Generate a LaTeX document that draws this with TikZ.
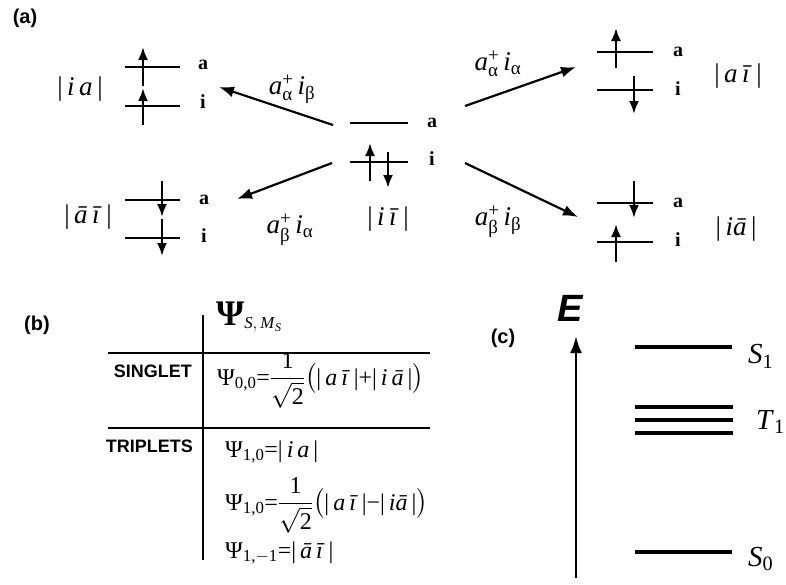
\documentclass[tikz,border=0pt]{standalone}
\usepackage{fontspec}
\usepackage{amsmath}
\setmainfont{Liberation Serif}
\setsansfont{Liberation Sans}
\usetikzlibrary{arrows.meta}
\tikzset{
 lvl/.style={line width=2.8pt},
 spin/.style={line width=2.4pt,-{Latex[length=13pt,width=10pt]}},
 trans/.style={line width=2.2pt,-{Latex[length=15pt,width=11pt]}},
 orb/.style={font=\bfseries\fontsize{20}{24}\selectfont, inner sep=0pt},
 ketl/.style={font=\fontsize{27}{30}\selectfont, inner sep=0pt},
 oplab/.style={font=\fontsize{27}{30}\selectfont, inner sep=0pt},
 panel/.style={font=\sffamily\bfseries\fontsize{20}{24}\selectfont, inner sep=0pt},
 tabtxt/.style={font=\sffamily\bfseries\fontsize{18}{22}\selectfont, inner sep=0pt},
 formula/.style={font=\fontsize{24}{28}\selectfont, inner sep=0pt},
 tabrule/.style={line width=2.6pt},
 elvl/.style={line width=3.8pt},
 eaxis/.style={line width=2.8pt,-{Latex[length=17pt,width=12pt]}},
}
\newcommand{\ketx}[1]{|\,\textit{#1}\,|}
\newcommand{\opx}[4]{$\text{\textit{#1}}^{\text{+}}_{\text{#2}}\,\text{\textit{#3}}_{\text{#4}}$}
\begin{document}
\begin{tikzpicture}[x=1pt,y=-1pt]
\useasboundingbox (0,0) rectangle (786,584);
% ---------------- (a)
\node[panel] (la) at (25,18) {(a)};
% ground configuration (centre)
\draw[lvl] (350,123) -- (408,123);
\draw[lvl] (350,162) -- (408,162);
\draw[spin] (370,181) -- (370,143);
\draw[spin] (388,152) -- (388,188);
\node[orb] (g-a) at (432,123) {a};
\node[orb] (g-i) at (432,159) {i};
\node[ketl] (g-ket) at (388,219) {\ketx{i\,ī}};
% top left |ia|
\draw[lvl] (125,67) -- (180,67);
\draw[lvl] (125,106) -- (180,106);
\draw[spin] (143,86) -- (143,47);
\draw[spin] (143,125) -- (143,88);
\node[orb] (tl-a) at (203,65) {a};
\node[orb] (tl-i) at (203,102) {i};
\node[ketl] (tl-ket) at (80,89) {\ketx{i\,a}};
% top right |a ibar|
\draw[lvl] (597,52) -- (653,52);
\draw[lvl] (597,90) -- (653,90);
\draw[spin] (616,68) -- (616,28);
\draw[spin] (634,76) -- (634,114);
\node[orb] (tr-a) at (678,52) {a};
\node[orb] (tr-i) at (678,89) {i};
\node[ketl] (tr-ket) at (738,76) {\ketx{a\,ī}};
% bottom left |abar ibar|
\draw[lvl] (125,200) -- (180,200);
\draw[lvl] (125,238) -- (180,238);
\draw[spin] (162,181) -- (162,217);
\draw[spin] (162,219) -- (162,256);
\node[orb] (bl-a) at (204,200) {a};
\node[orb] (bl-i) at (204,236) {i};
\node[ketl] (bl-ket) at (88,217) {\ketx{ā\,ī}};
% bottom right |i abar|
\draw[lvl] (597,203) -- (653,203);
\draw[lvl] (597,242) -- (653,242);
\draw[spin] (634,181) -- (634,218);
\draw[spin] (616,262) -- (616,224);
\node[orb] (br-a) at (678,203) {a};
\node[orb] (br-i) at (678,240) {i};
\node[ketl] (br-ket) at (736,229) {\ketx{iā}};
% transitions
\coordinate (s-tl) at (333,125); \coordinate (e-tl) at (219,87);
\coordinate (s-tr) at (465,106); \coordinate (e-tr) at (576,67);
\coordinate (s-bl) at (332,163); \coordinate (e-bl) at (237,199);
\coordinate (s-br) at (465,163); \coordinate (e-br) at (578,217);
\draw[trans] (s-tl) -- (e-tl);
\draw[trans] (s-tr) -- (e-tr);
\draw[trans] (s-bl) -- (e-bl);
\draw[trans] (s-br) -- (e-br);
\node[oplab] (op-tl) at (292,89) {\opx{a}{α}{i}{β}};
\node[oplab] (op-tr) at (498,64) {\opx{a}{α}{i}{α}};
\node[oplab] (op-bl) at (290,230) {\opx{a}{β}{i}{α}};
\node[oplab] (op-br) at (498,222) {\opx{a}{β}{i}{β}};
% ---------------- (b)
\node[panel] (lb) at (37,325) {(b)};
\draw[tabrule] (203,315) -- (203,560);
\draw[tabrule] (108,353) -- (430,353);
\draw[tabrule] (108,428) -- (430,428);
\node[formula, anchor=base west] (hdr) at (216,325) {$\text{\fontsize{36}{38}\selectfont\bfseries Ψ}_{\text{\textit{S}},\,\text{\textit{M}}_{\text{\textit{S}}}}$};
\node[tabtxt, anchor=base east] (sing) at (192,377) {SINGLET};
\node[tabtxt, anchor=base east] (trip) at (193,452) {TRIPLETS};
\node[formula, anchor=base west] (f00) at (217,385) {$\text{Ψ}_{\text{0,0}}\text{=}\dfrac{\text{1}}{\sqrt{\text{2}}}\bigl(\text{\ketx{a\,ī}+\ketx{i\,ā}}\bigr)$};
\node[formula, anchor=base west] (f11) at (225,457) {$\text{Ψ}_{\text{1,0}}\text{=}\text{\ketx{i\,a}}$};
\node[formula, anchor=base west] (f10) at (225,510) {$\text{Ψ}_{\text{1,0}}\text{=}\dfrac{\text{1}}{\sqrt{\text{2}}}\bigl(\text{\ketx{a\,ī}−\ketx{iā}}\bigr)$};
\node[formula, anchor=base west] (f1m) at (225,558) {$\text{Ψ}_{\text{1,}-\text{1}}\text{=}\text{\ketx{ā\,ī}}$};
% ---------------- (c)
\node[panel] (lc) at (503,338) {(c)};
\node[font=\sffamily\bfseries\itshape\fontsize{38}{40}\selectfont, inner sep=0pt] (E) at (570,308) {E};
\coordinate (ax0) at (576,578); \coordinate (ax1) at (576,336);
\draw[eaxis] (ax0) -- (ax1);
\draw[elvl] (635,347) -- (732,347);
\draw[elvl] (635,407) -- (733,407);
\draw[elvl] (635,420) -- (733,420);
\draw[elvl] (635,433) -- (733,433);
\draw[elvl] (635,552) -- (732,552);
\node[formula, anchor=west, font=\fontsize{29}{32}\selectfont] (S1) at (748,356) {$\text{\textit{S}}_{\text{1}}$};
\node[formula, anchor=west, font=\fontsize{29}{32}\selectfont] (T1) at (756,422) {$\text{\textit{T}}_{\text{1}}$};
\node[formula, anchor=west, font=\fontsize{29}{32}\selectfont] (S0) at (748,559) {$\text{\textit{S}}_{\text{0}}$};
\end{tikzpicture}
\end{document}
